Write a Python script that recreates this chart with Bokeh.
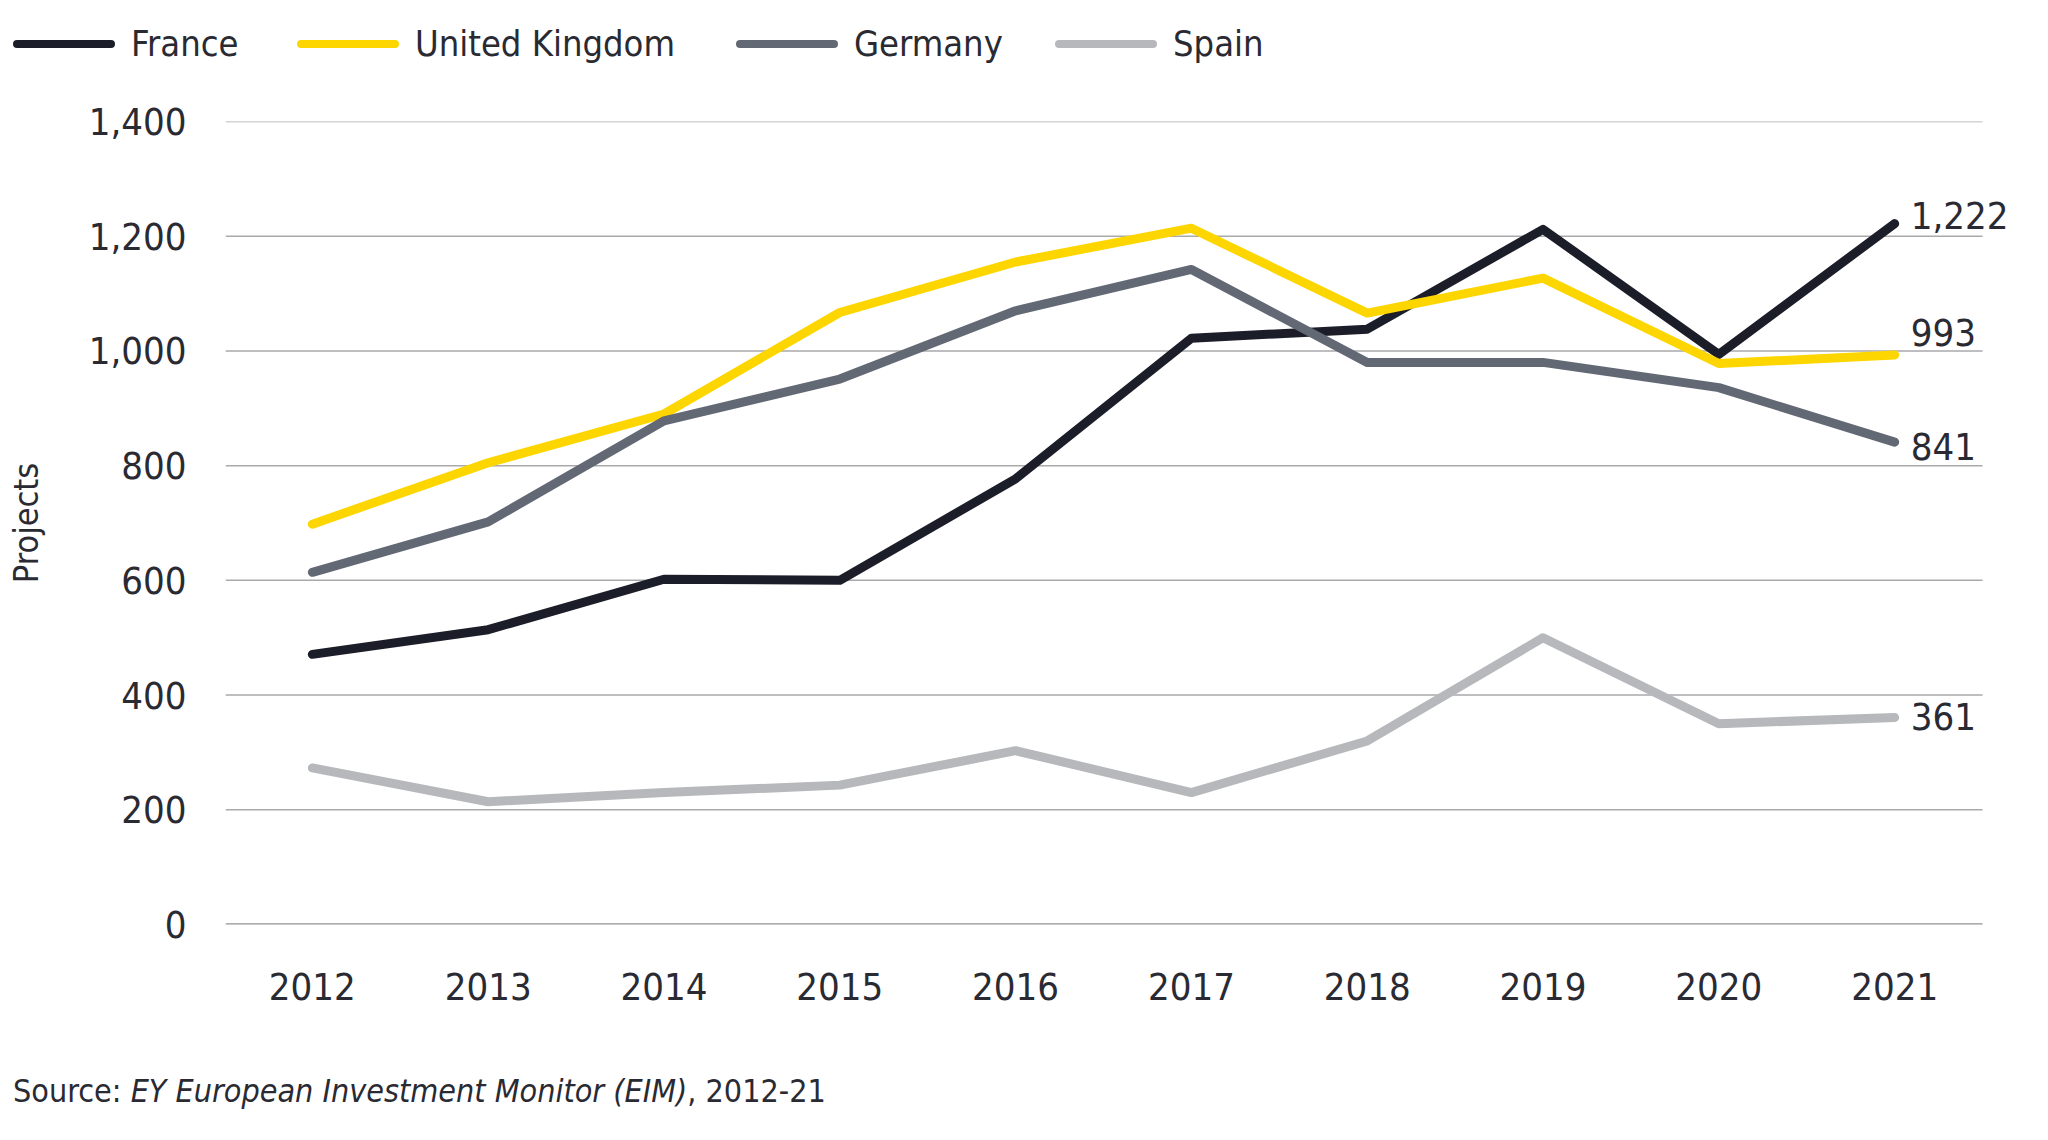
from bokeh.plotting import figure
from bokeh.layouts import column
from bokeh.models import Label, Range1d, FixedTicker, NumeralTickFormatter, Div
from bokeh.embed import file_html
from bokeh.resources import INLINE

years = [2012, 2013, 2014, 2015, 2016, 2017, 2018, 2019, 2020, 2021]
france = [471, 514, 602, 600, 777, 1022, 1038, 1212, 994, 1222]
uk = [698, 805, 890, 1067, 1155, 1214, 1066, 1127, 978, 993]
germany = [614, 702, 878, 951, 1070, 1142, 980, 980, 936, 841]
spain = [273, 214, 230, 243, 303, 230, 320, 500, 350, 361]
series_names = ["France", "United Kingdom", "Germany", "Spain"]
y_ticks = [0, 200, 400, 600, 800, 1000, 1200, 1400]
end_labels = ["1,222", "993", "841", "361"]
source_parts = ["Source:", "EY European Investment Monitor (EIM)", ", 2012-21"]

# styles / positions
colors = ["#1b1d29", "#fdd600", "#626874", "#b6b8bb"]
end_label_dy = [8, 22, -4, 1]
legend_x = [8, 292, 731, 1050]
FONT = "DejaVu Sans Condensed"
TXT = "#2a2a33"
W = 2032
X_START, X_END, GRID_END = 2011.506, 2021.784, 2021.5

# ---------- legend (HTML strip) ----------
items = []
for nm, c, lx in zip(series_names, colors, legend_x):
    items.append(
        '<div style="position:absolute;left:%dpx;top:35px;width:102px;height:8px;'
        'border-radius:4px;background:%s"></div>'
        '<div style="position:absolute;left:%dpx;top:19px;height:40px;line-height:40px;'
        'white-space:nowrap">%s</div>' % (lx, c, lx + 118, nm))
legend_div = Div(text='<div style="position:relative;width:%dpx;height:90px">%s</div>'
                 % (W, "".join(items)),
                 width=W, height=90,
                 styles={"font-family": FONT, "font-size": "36px", "color": TXT})

# ---------- main chart ----------
p = figure(width=W, height=950, output_backend="svg", toolbar_location=None,
           x_range=Range1d(X_START, X_END), y_range=Range1d(0, 1400),
           min_border_left=225, min_border_right=0, min_border_top=21,
           min_border_bottom=126)
p.outline_line_color = None
p.xgrid.grid_line_color = None
p.ygrid.grid_line_color = None

n = len(y_ticks) - 1
p.segment(x0=[X_START] * n, x1=[GRID_END] * n, y0=y_ticks[1:], y1=y_ticks[1:],
          line_color="#a9a9ab", line_width=1.5)
p.segment(x0=[X_START], x1=[GRID_END], y0=[y_ticks[0]], y1=[y_ticks[0]],
          line_color="#929296", line_width=2.5)

p.xaxis.ticker = FixedTicker(ticks=years)
p.yaxis.ticker = FixedTicker(ticks=y_ticks)
p.yaxis.formatter = NumeralTickFormatter(format="0,0")
for ax in (p.xaxis[0], p.yaxis[0]):
    ax.axis_line_color = None
    ax.major_tick_line_color = None
    ax.minor_tick_line_color = None
    ax.major_label_text_font = FONT
    ax.major_label_text_font_size = "38px"
    ax.major_label_text_color = TXT
p.xaxis.major_label_standoff = 42
p.yaxis.major_label_standoff = 33
p.yaxis.axis_label = "Projects"
p.yaxis.axis_label_text_font = FONT
p.yaxis.axis_label_text_font_size = "34px"
p.yaxis.axis_label_text_font_style = "normal"
p.yaxis.axis_label_text_color = TXT
p.yaxis.axis_label_standoff = 40

for nm, vals, c in zip(series_names, [france, uk, germany, spain], colors):
    p.line(years, vals, line_color=c, line_width=9, line_cap="round",
           line_join="round", name=nm)

for vals, lab, dy in zip([france, uk, germany, spain], end_labels, end_label_dy):
    p.add_layout(Label(x=years[-1], y=vals[-1], text=lab, x_offset=16, y_offset=dy,
                       text_font=FONT, text_font_size="38px", text_color=TXT,
                       text_baseline="middle", text_align="left"))

# ---------- source line ----------
src_html = "%s <i>%s</i>%s" % tuple(source_parts)
src = Div(text=src_html, width=W, height=74,
          styles={"font-family": FONT, "font-size": "32px", "color": TXT,
                  "line-height": "38px", "padding-top": "17px", "padding-left": "8px",
                  "white-space": "nowrap"})

layout = column(legend_div, p, src, spacing=0)
open("out.html", "w").write(file_html(layout, INLINE))
